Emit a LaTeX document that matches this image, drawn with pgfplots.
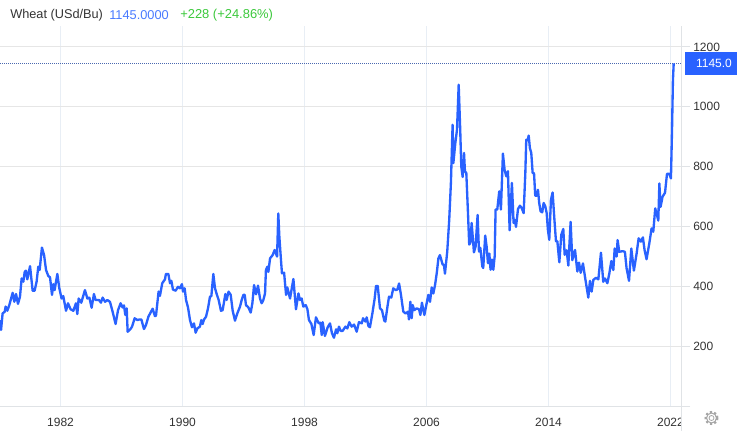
\documentclass[border=0pt]{standalone}
\usepackage{pgfplots}
\pgfplotsset{compat=1.18}
\usepackage{pgfplotstable}
\usepackage{fontspec}
\setmainfont{Liberation Sans}
\definecolor{line}{HTML}{2962FF}
\definecolor{hgrid}{HTML}{E6E6E6}
\definecolor{vgrid}{HTML}{E8EEF5}
\definecolor{axisc}{HTML}{E0E3E6}
\definecolor{txt}{HTML}{333333}
\definecolor{dots}{HTML}{4A68B0}
\pgfplotstableread{
x y
1978.03 288
1978.10 255
1978.20 310
1978.34 316
1978.40 333
1978.51 319
1978.64 338
1978.86 379
1978.97 349
1979.08 375
1979.21 342
1979.34 366
1979.45 427
1979.56 416
1979.65 449
1979.73 453
1979.82 424
1980.00 468
1980.17 386
1980.30 386
1980.43 416
1980.54 466
1980.63 455
1980.78 530
1980.92 505
1981.05 455
1981.20 435
1981.31 431
1981.44 372
1981.53 408
1981.61 388
1981.79 442
1981.92 394
1982.07 360
1982.18 368
1982.36 319
1982.49 344
1982.66 324
1982.84 319
1983.01 344
1983.10 308
1983.19 360
1983.36 346
1983.60 388
1983.76 360
1983.89 363
1984.04 329
1984.19 375
1984.30 355
1984.52 355
1984.65 346
1984.76 363
1984.92 349
1985.07 355
1985.24 349
1985.40 319
1985.61 275
1985.77 321
1985.94 344
1986.07 330
1986.16 337
1986.25 305
1986.34 327
1986.40 249
1986.60 259
1986.69 266
1986.86 294
1987.04 288
1987.17 290
1987.30 290
1987.47 258
1987.60 271
1987.76 299
1988.04 326
1988.19 301
1988.26 303
1988.43 383
1988.52 369
1988.67 411
1988.85 424
1988.91 442
1989.07 442
1989.18 411
1989.27 419
1989.37 390
1989.55 386
1989.70 399
1989.83 394
1989.96 408
1990.03 383
1990.14 394
1990.23 355
1990.36 330
1990.49 288
1990.62 264
1990.75 277
1990.86 246
1990.97 260
1991.14 266
1991.23 288
1991.32 275
1991.41 290
1991.54 299
1991.67 327
1991.80 366
1991.89 368
1992.02 442
1992.13 394
1992.24 375
1992.37 355
1992.52 319
1992.63 321
1992.81 375
1992.89 355
1993.02 383
1993.16 372
1993.29 319
1993.44 286
1993.59 310
1993.77 333
1993.88 355
1993.99 372
1994.08 372
1994.16 338
1994.32 330
1994.47 313
1994.58 344
1994.69 405
1994.82 374
1994.95 403
1995.08 360
1995.19 344
1995.30 355
1995.41 377
1995.47 455
1995.56 466
1995.63 449
1995.74 494
1995.91 505
1996.04 522
1996.20 500
1996.28 644
1996.35 566
1996.44 500
1996.52 444
1996.66 446
1996.79 372
1996.87 397
1997.05 360
1997.27 425
1997.44 324
1997.60 377
1997.70 355
1997.81 360
1997.92 333
1998.08 338
1998.19 324
1998.29 288
1998.45 275
1998.60 238
1998.75 297
1998.93 277
1999.04 279
1999.13 238
1999.19 281
1999.34 235
1999.52 264
1999.67 277
1999.80 244
1999.93 229
2000.07 257
2000.15 244
2000.26 266
2000.37 252
2000.50 252
2000.68 266
2000.81 260
2000.94 281
2001.09 266
2001.25 273
2001.42 249
2001.57 281
2001.75 277
2001.84 294
2001.99 283
2002.08 297
2002.19 268
2002.29 264
2002.45 310
2002.60 360
2002.69 402
2002.80 402
2002.95 327
2003.08 321
2003.23 286
2003.30 283
2003.43 330
2003.54 366
2003.69 363
2003.82 394
2003.98 388
2004.09 390
2004.20 410
2004.31 377
2004.48 316
2004.63 310
2004.79 316
2004.85 290
2004.94 349
2005.03 294
2005.09 338
2005.20 321
2005.35 327
2005.51 324
2005.60 305
2005.70 346
2005.86 305
2006.01 344
2006.12 372
2006.23 349
2006.34 397
2006.45 377
2006.56 405
2006.67 444
2006.78 494
2006.88 505
2007.06 473
2007.14 473
2007.21 443
2007.36 517
2007.49 623
2007.60 746
2007.71 940
2007.76 812
2007.89 879
2008.00 924
2008.11 1074
2008.21 924
2008.28 801
2008.37 766
2008.46 846
2008.52 785
2008.61 779
2008.72 645
2008.80 540
2008.87 545
2008.96 612
2009.11 514
2009.22 534
2009.35 639
2009.44 517
2009.53 529
2009.66 467
2009.72 462
2009.85 570
2009.94 534
2010.03 478
2010.12 510
2010.20 456
2010.29 490
2010.38 456
2010.47 501
2010.53 657
2010.64 657
2010.77 718
2010.88 657
2011.01 844
2011.12 790
2011.23 768
2011.34 785
2011.45 588
2011.60 746
2011.71 612
2011.78 623
2011.87 599
2012.00 659
2012.13 670
2012.24 662
2012.37 645
2012.48 779
2012.54 890
2012.63 888
2012.70 904
2012.78 862
2012.87 846
2012.96 779
2013.05 779
2013.13 703
2013.22 703
2013.31 723
2013.39 679
2013.48 651
2013.59 648
2013.68 679
2013.79 668
2013.88 645
2013.96 590
2014.05 556
2014.16 690
2014.27 714
2014.38 629
2014.49 551
2014.58 551
2014.71 481
2014.84 573
2014.97 592
2015.06 506
2015.19 521
2015.30 470
2015.45 616
2015.56 488
2015.74 522
2015.89 450
2016.00 480
2016.11 446
2016.26 477
2016.41 427
2016.61 363
2016.72 419
2016.83 383
2016.94 422
2017.11 429
2017.27 424
2017.44 513
2017.59 416
2017.70 427
2017.86 411
2017.99 444
2018.12 485
2018.25 455
2018.34 527
2018.47 500
2018.53 555
2018.64 516
2018.86 518
2019.01 516
2019.12 461
2019.28 419
2019.43 527
2019.60 453
2019.78 511
2019.91 561
2020.06 550
2020.19 564
2020.30 522
2020.43 491
2020.61 544
2020.76 594
2020.87 583
2021.00 661
2021.20 620
2021.27 744
2021.35 666
2021.48 700
2021.64 713
2021.77 776
2021.92 776
2022.03 761
2022.10 923
2022.16 1089
2022.21 1145
}\wheat
\begin{document}
\begin{tikzpicture}[font=\fontsize{9pt}{11pt}\selectfont]
\path[use as bounding box] (0,0) rectangle (552.75pt,-323.25pt);
\begin{axis}[
  at={(0pt,-304.725pt)},anchor=south west,
  scale only axis,width=510.75pt,height=285.2pt,
  xmin=1978.03,xmax=2022.69,ymin=0,ymax=1269.8,
  axis x line*=bottom,axis y line*=right,
  axis line style={draw=axisc,line width=0.75pt,-},
  xmajorgrids,ymajorgrids,
  x grid style={vgrid,line width=0.75pt},
  y grid style={hgrid,line width=0.75pt},
  xtick={1982,1990,1998,2006,2014,2022},
  xticklabels={1982,1990,1998,2006,2014,2022},
  ytick={0,200,400,600,800,1000,1200},
  yticklabels={,200,400,600,800,1000,1200},
  tick align=outside,
  major tick length=7pt,
  x tick style={draw=none},
  y tick style={draw=axisc,line width=0.75pt},
  xticklabel style={font=\fontsize{9pt}{11pt}\selectfont,text=txt,inner sep=0pt,yshift=-2pt},
  yticklabel style={font=\fontsize{9pt}{11pt}\selectfont,text=txt,inner sep=0pt,anchor=west,xshift=2pt},
]
\addplot[color=dots,line width=0.75pt,dash pattern=on 0.75pt off 0.75pt,forget plot] coordinates {(1978.03,1145) (2022.69,1145)};
\addplot[color=line,line width=1.75pt,line join=round,no markers,sharp plot] table[x=x,y=y] {\wheat};
\end{axis}
\begin{scope}[x=0.75pt,y=-0.75pt]
\fill[white] (681.6,412) rectangle (692,431);
\draw[axisc,line width=0.75pt] (681,406) -- (681,431);
\fill[line] (685,52) rectangle (737,75);
\node[anchor=center,text=white,font=\fontsize{9pt}{11pt}\selectfont] at (714,63.5) {1145.0};
\node[anchor=west,inner sep=0pt,text=txt,font=\fontsize{9.55pt}{11pt}\selectfont] at (10,15) {Wheat (USd/Bu)};
\node[anchor=west,inner sep=0pt,text=line!85!white,font=\fontsize{9.6pt}{11pt}\selectfont] at (109,15) {1145.0000};
\node[anchor=west,inner sep=0pt,text={rgb,255:red,60;green,200;blue,60},font=\fontsize{9.7pt}{11pt}\selectfont] at (180,15) {+228 (+24.86\%)};
\draw[gray!70,line width=0.6pt] (711.5,418) circle (2.5);
\draw[gray!70,line width=0.8pt] (711.5,418) circle (5);
\draw[gray!70,line width=1.5pt,dash pattern=on 1.6pt off 1.7pt] (711.5,418) circle (6);
\end{scope}
\end{tikzpicture}
\end{document}
